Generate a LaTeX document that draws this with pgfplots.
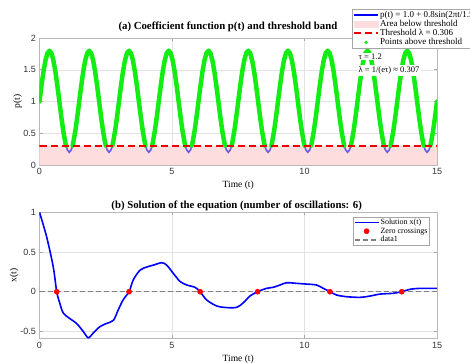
\documentclass[border=0pt]{standalone}
\usepackage{pgfplots}
\pgfplotsset{compat=1.18}
\usepackage{pgfplotstable}
\usepackage{fontspec}
\setmainfont{Liberation Serif}
\setsansfont{Liberation Sans}
\definecolor{pgreen}{rgb}{0.08,0.93,0.08}
\definecolor{thrred}{rgb}{0.92,0.0,0.0}
\definecolor{pinkfill}{RGB}{253,221,221}
\definecolor{dipblue}{RGB}{105,90,228}
\pgfplotsset{
  legend image code/.code={\draw[mark repeat=2,mark phase=2,#1] plot coordinates {(0pt,0pt) (12pt,0pt) (24pt,0pt)};},
  pinkleg/.style={legend image code/.code={\fill[pinkfill] (0pt,-3pt) rectangle (24pt,3pt);}},
  greenleg/.style={legend image code/.code={\path[fill=pgreen, draw=none, solid] (12pt,0pt) circle (1.9pt);}},
  myax/.style={
    scale only axis, width=397.5pt,
    xmin=0, xmax=15, xtick={0,5,10,15},
    grid=major, grid style={gray!22, line width=0.4pt},
    axis line style={gray!55, line width=0.5pt},
    tick style={gray!70, line width=0.5pt}, major tick length=3pt, tick align=inside,
    tick label style={font=\fontsize{9}{10}\selectfont\sffamily, text=black!80},
    /pgf/number format/assume math mode=true,
    label style={font=\fontsize{9.5}{11}\selectfont},
    every axis title shift=0pt,
    title style={font=\fontsize{10.8}{12}\selectfont\bfseries},
    xlabel={Time (t)},
    legend cell align=left,
  },
}
\pgfplotstableread[row sep=\\]{
t p\\
0 1.0\\ 0.075 1.2472\\ 0.15 1.4702\\ 0.225 1.6472\\ 0.3 1.7608\\ 0.375 1.8\\ 0.45 1.7608\\ 0.525 1.6472\\ 0.6 1.4702\\ 0.675 1.2472\\ 0.75 1.0\\ 0.825 0.7528\\ 0.9 0.5298\\ 0.975 0.3528\\ 1.0008 0.306\\ 1.05 0.2392\\ 1.125 0.2\\ 1.2 0.2392\\ 1.2492 0.306\\ 1.275 0.3528\\ 1.35 0.5298\\ 1.425 0.7528\\
1.5 1.0\\ 1.575 1.2472\\ 1.65 1.4702\\ 1.725 1.6472\\ 1.8 1.7608\\ 1.875 1.8\\ 1.95 1.7608\\ 2.025 1.6472\\ 2.1 1.4702\\ 2.175 1.2472\\ 2.25 1.0\\ 2.325 0.7528\\ 2.4 0.5298\\ 2.475 0.3528\\ 2.5008 0.306\\ 2.55 0.2392\\ 2.625 0.2\\ 2.7 0.2392\\ 2.7492 0.306\\ 2.775 0.3528\\ 2.85 0.5298\\ 2.925 0.7528\\
3 1.0\\ 3.075 1.2472\\ 3.15 1.4702\\ 3.225 1.6472\\ 3.3 1.7608\\ 3.375 1.8\\ 3.45 1.7608\\ 3.525 1.6472\\ 3.6 1.4702\\ 3.675 1.2472\\ 3.75 1.0\\ 3.825 0.7528\\ 3.9 0.5298\\ 3.975 0.3528\\ 4.0008 0.306\\ 4.05 0.2392\\ 4.125 0.2\\ 4.2 0.2392\\ 4.2492 0.306\\ 4.275 0.3528\\ 4.35 0.5298\\ 4.425 0.7528\\
4.5 1.0\\ 4.575 1.2472\\ 4.65 1.4702\\ 4.725 1.6472\\ 4.8 1.7608\\ 4.875 1.8\\ 4.95 1.7608\\ 5.025 1.6472\\ 5.1 1.4702\\ 5.175 1.2472\\ 5.25 1.0\\ 5.325 0.7528\\ 5.4 0.5298\\ 5.475 0.3528\\ 5.5008 0.306\\ 5.55 0.2392\\ 5.625 0.2\\ 5.7 0.2392\\ 5.7492 0.306\\ 5.775 0.3528\\ 5.85 0.5298\\ 5.925 0.7528\\
6 1.0\\ 6.075 1.2472\\ 6.15 1.4702\\ 6.225 1.6472\\ 6.3 1.7608\\ 6.375 1.8\\ 6.45 1.7608\\ 6.525 1.6472\\ 6.6 1.4702\\ 6.675 1.2472\\ 6.75 1.0\\ 6.825 0.7528\\ 6.9 0.5298\\ 6.975 0.3528\\ 7.0008 0.306\\ 7.05 0.2392\\ 7.125 0.2\\ 7.2 0.2392\\ 7.2492 0.306\\ 7.275 0.3528\\ 7.35 0.5298\\ 7.425 0.7528\\
7.5 1.0\\ 7.575 1.2472\\ 7.65 1.4702\\ 7.725 1.6472\\ 7.8 1.7608\\ 7.875 1.8\\ 7.95 1.7608\\ 8.025 1.6472\\ 8.1 1.4702\\ 8.175 1.2472\\ 8.25 1.0\\ 8.325 0.7528\\ 8.4 0.5298\\ 8.475 0.3528\\ 8.5008 0.306\\ 8.55 0.2392\\ 8.625 0.2\\ 8.7 0.2392\\ 8.7492 0.306\\ 8.775 0.3528\\ 8.85 0.5298\\ 8.925 0.7528\\
9 1.0\\ 9.075 1.2472\\ 9.15 1.4702\\ 9.225 1.6472\\ 9.3 1.7608\\ 9.375 1.8\\ 9.45 1.7608\\ 9.525 1.6472\\ 9.6 1.4702\\ 9.675 1.2472\\ 9.75 1.0\\ 9.825 0.7528\\ 9.9 0.5298\\ 9.975 0.3528\\ 10.0008 0.306\\ 10.05 0.2392\\ 10.125 0.2\\ 10.2 0.2392\\ 10.2492 0.306\\ 10.275 0.3528\\ 10.35 0.5298\\ 10.425 0.7528\\
10.5 1.0\\ 10.575 1.2472\\ 10.65 1.4702\\ 10.725 1.6472\\ 10.8 1.7608\\ 10.875 1.8\\ 10.95 1.7608\\ 11.025 1.6472\\ 11.1 1.4702\\ 11.175 1.2472\\ 11.25 1.0\\ 11.325 0.7528\\ 11.4 0.5298\\ 11.475 0.3528\\ 11.5008 0.306\\ 11.55 0.2392\\ 11.625 0.2\\ 11.7 0.2392\\ 11.7492 0.306\\ 11.775 0.3528\\ 11.85 0.5298\\ 11.925 0.7528\\
12 1.0\\ 12.075 1.2472\\ 12.15 1.4702\\ 12.225 1.6472\\ 12.3 1.7608\\ 12.375 1.8\\ 12.45 1.7608\\ 12.525 1.6472\\ 12.6 1.4702\\ 12.675 1.2472\\ 12.75 1.0\\ 12.825 0.7528\\ 12.9 0.5298\\ 12.975 0.3528\\ 13.0008 0.306\\ 13.05 0.2392\\ 13.125 0.2\\ 13.2 0.2392\\ 13.2492 0.306\\ 13.275 0.3528\\ 13.35 0.5298\\ 13.425 0.7528\\
13.5 1.0\\ 13.575 1.2472\\ 13.65 1.4702\\ 13.725 1.6472\\ 13.8 1.7608\\ 13.875 1.8\\ 13.95 1.7608\\ 14.025 1.6472\\ 14.1 1.4702\\ 14.175 1.2472\\ 14.25 1.0\\ 14.325 0.7528\\ 14.4 0.5298\\ 14.475 0.3528\\ 14.5008 0.306\\ 14.55 0.2392\\ 14.625 0.2\\ 14.7 0.2392\\ 14.7492 0.306\\ 14.775 0.3528\\ 14.85 0.5298\\ 14.925 0.7528\\
15 1.0\\
}\ptab
\pgfplotstableread[row sep=\\]{
t x\\
0 1.0\\ 0.27 0.69\\ 0.52 0.31\\ 0.65 0.0\\ 0.77 -0.15\\ 0.9 -0.27\\ 1.15 -0.34\\ 1.4 -0.40\\ 1.65 -0.50\\ 1.84 -0.58\\ 2.03 -0.52\\ 2.28 -0.44\\ 2.53 -0.40\\ 2.79 -0.36\\ 2.97 -0.23\\ 3.16 -0.10\\ 3.38 0.0\\ 3.54 0.15\\ 3.79 0.27\\ 4.04 0.31\\ 4.3 0.335\\ 4.61 0.365\\ 4.8 0.335\\ 5.05 0.23\\ 5.3 0.13\\ 5.55 0.085\\ 5.87 0.055\\ 6.06 0.0\\ 6.31 -0.105\\ 6.69 -0.18\\ 7.06 -0.20\\ 7.44 -0.197\\ 7.69 -0.14\\ 7.94 -0.055\\ 8.23 0.0\\ 8.57 0.042\\ 8.82 0.055\\ 9.08 0.085\\ 9.33 0.113\\ 9.7 0.105\\ 10.08 0.096\\ 10.46 0.084\\ 10.71 0.042\\ 10.96 0.0\\ 11.21 -0.042\\ 11.59 -0.063\\ 12.09 -0.071\\ 12.47 -0.055\\ 12.85 -0.03\\ 13.35 -0.02\\ 13.67 0.0\\ 13.98 0.03\\ 14.36 0.042\\ 15 0.042\\
}\xtab
\begin{document}
\begin{tikzpicture}
\begin{axis}[myax,
  at={(39.5pt,197pt)}, anchor=south west, height=127pt,
  ymin=0, ymax=2, ytick={0,0.5,1,1.5,2},
  ylabel={p(t)},
  title={(a) Coefficient function p(t) and threshold band},
  title style={at={(axis description cs:0.474,1.09)}, anchor=center},
  xlabel style={at={(axis description cs:0.5,-0.157)}, anchor=center},
  ylabel style={at={(axis description cs:-0.055,0.5)}, anchor=center},
  legend style={at={(axis description cs:0.786,1.228)}, anchor=north west,
    font=\fontsize{9}{9.5}\selectfont, draw=gray!70, fill=white,
    inner sep=1pt, row sep=-0.9pt, nodes={inner sep=1.1pt}},
]
\addlegendimage{blue, line width=1.5pt}
\addlegendentry{p(t) = 1.0 + 0.8sin(2πt/1.5)}
\addlegendimage{pinkleg}
\addlegendentry{Area below threshold}
\addlegendimage{draw=thrred, line width=2pt, dash pattern=on 7pt off 4pt}
\addlegendentry{Threshold λ = 0.306}
\addlegendimage{greenleg}
\addlegendentry{Points above threshold}
\addplot[draw=none, fill=pinkfill, forget plot] coordinates {(0,0.306) (15,0.306)} \closedcycle;
\addplot[dipblue, line width=1.6pt, forget plot] table[x=t,y=p] {\ptab};
\addplot[pgreen, line width=4.5pt, line cap=round, line join=round, restrict y to domain=0.3:2, unbounded coords=jump, forget plot] table[x=t,y=p] {\ptab};
\addplot[draw=thrred, line width=2pt, dash pattern=on 7pt off 4pt, forget plot] coordinates {(0,0.306) (15,0.306)};
\node[fill=white, anchor=west, inner xsep=1.5pt, inner ysep=1pt, font=\fontsize{8.5}{9}\selectfont] at (axis cs:11.98,1.71) {τ = 1.2};
\node[fill=white, anchor=west, inner xsep=1.5pt, inner ysep=1.5pt, font=\fontsize{8.5}{9}\selectfont] at (axis cs:11.98,1.49) {λ = 1/(eτ) ≈ 0.307};
\end{axis}
\begin{axis}[myax,
  at={(39.5pt,23.7pt)}, anchor=south west, height=126pt,
  ymin=-0.587, ymax=1, ytick={-0.5,0,0.5,1},
  ylabel={x(t)},
  title={(b) Solution of the equation (number of oscillations: 6)},
  title style={at={(axis description cs:0.496,1.052)}, anchor=center},
  xlabel style={at={(axis description cs:0.5,-0.165)}, anchor=center},
  ylabel style={at={(axis description cs:-0.064,0.5)}, anchor=center},
  legend style={at={(axis description cs:0.982,0.966)}, anchor=north east,
    font=\fontsize{8}{9}\selectfont, draw=gray!70, fill=white,
    inner sep=1pt, row sep=-0.6pt, nodes={inner sep=1.2pt}},
]
\addplot[blue, line width=1.6pt, smooth, tension=0.5] table[x=t,y=x] {\xtab};
\addlegendentry{Solution x(t)}
\addplot[only marks, mark=*, mark size=2.6pt, red, mark options={draw=red, fill=red}] coordinates {(0.65,0) (3.38,0) (6.06,0) (8.23,0) (10.96,0) (13.67,0)};
\addlegendentry{Zero crossings}
\addplot[gray, line width=1.3pt, dash pattern=on 5pt off 3pt] coordinates {(0,0) (15,0)};
\addlegendentry{data1}
\end{axis}
\pgfresetboundingbox
\path[use as bounding box] (0,0) rectangle (470pt,362pt);
\end{tikzpicture}
\end{document}
